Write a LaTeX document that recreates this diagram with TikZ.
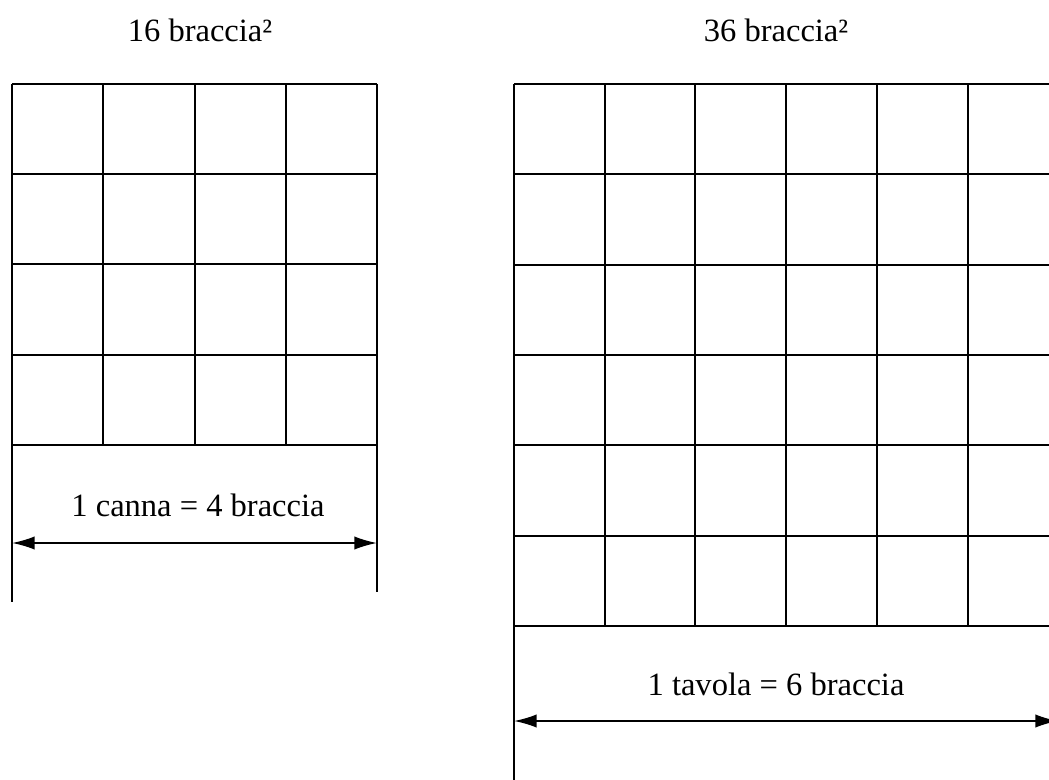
\documentclass[tikz,border=0pt]{standalone}
\usepackage{fontspec}
\setmainfont{Liberation Serif}
\usetikzlibrary{arrows.meta}
\begin{document}
\begin{tikzpicture}[x=0.75pt,y=-0.75pt,
  gridline/.style={line width=1.5pt,black},
  extline/.style={line width=1.2pt,black},
  dimline/.style={line width=1.3pt,black,{Latex[length=17pt,width=10pt]}-{Latex[length=17pt,width=10pt]}},
  lbl/.style={font=\fontsize{24.4}{28}\selectfont,inner sep=0pt}]
\useasboundingbox (0,0) rectangle (1049,780);
\clip (0,0) rectangle (1049,780);
% left grid 4x4
\foreach \i in {0,...,4} {
  \draw[gridline] ({12+91.25*\i},84) -- ({12+91.25*\i},445);
  \draw[gridline] (12,{84+90.25*\i}) -- (377,{84+90.25*\i});
}
\draw[extline] (12,445) -- (12,602);
\draw[extline] (377,445) -- (377,592);
\coordinate (la) at (12,543);
\coordinate (lb) at (377,543);
\draw[dimline] (la) -- (lb);
\node[lbl] (t1) at (200,30) {16 braccia²};
\node[lbl] (d1) at (198,505) {1 canna = 4 braccia};
% right grid 6x6
\foreach \i in {0,...,6} {
  \draw[gridline] ({514+90.7*\i},84) -- ({514+90.7*\i},626);
  \draw[gridline] (514,{84+90.33*\i}) -- (1058,{84+90.33*\i});
}
\draw[extline] (514,626) -- (514,780);
\draw[extline] (1058,626) -- (1058,780);
\coordinate (ra) at (514,721);
\coordinate (rb) at (1058,721);
\draw[dimline] (ra) -- (rb);
\node[lbl] (t2) at (776,30) {36 braccia²};
\node[lbl] (d2) at (776,684) {1 tavola = 6 braccia};
\end{tikzpicture}
\end{document}
